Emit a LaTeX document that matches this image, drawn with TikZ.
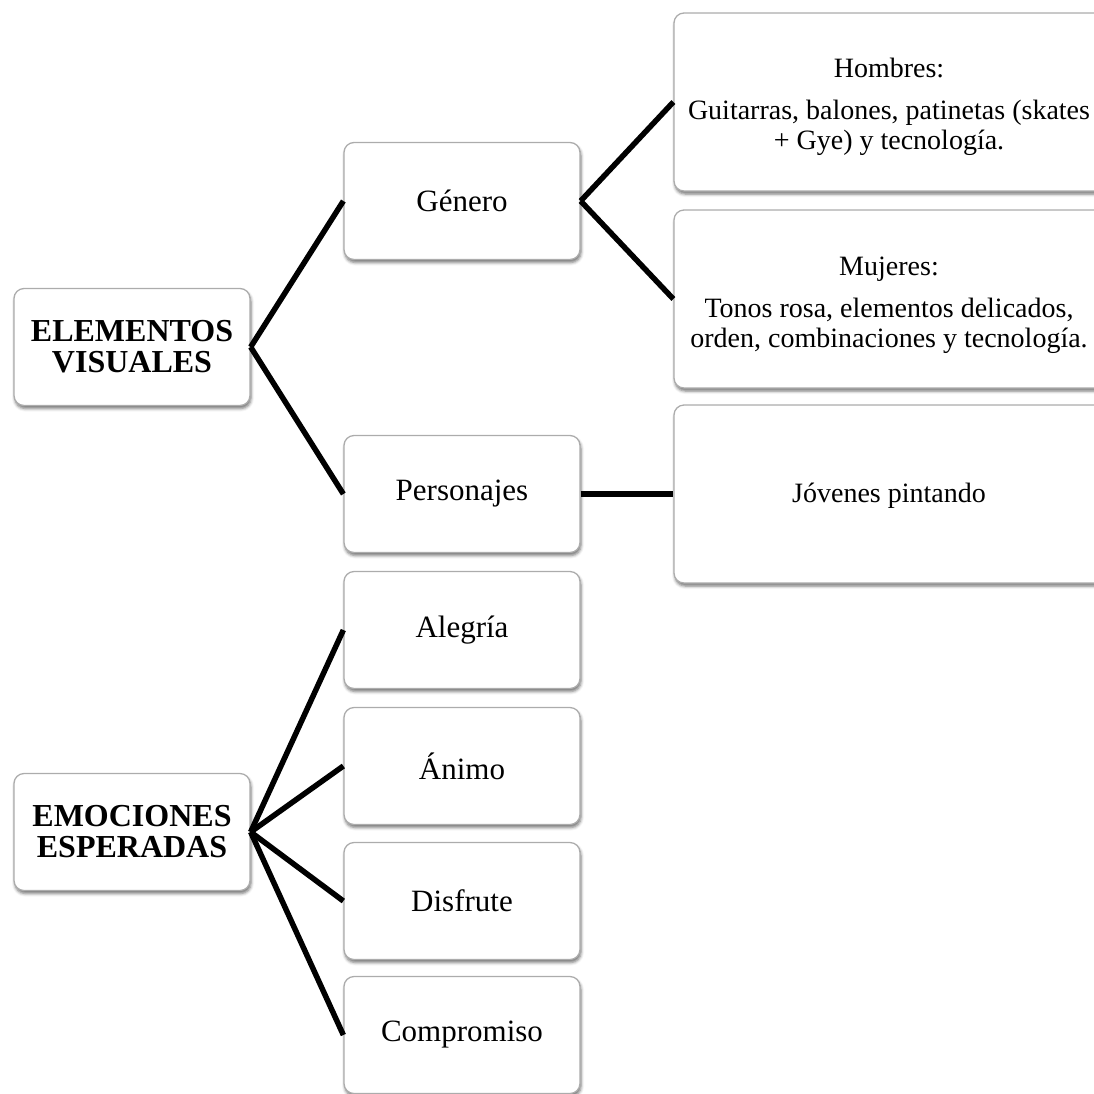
\documentclass[tikz,border=0pt]{standalone}
\usepackage{fontspec}
\setmainfont{Liberation Serif}
\usetikzlibrary{shadows.blur}
\begin{document}
\begin{tikzpicture}[x=1pt,y=-1pt,
  box/.style={draw=gray!65, line width=1.3pt, rounded corners=10pt, fill=white,
    blur shadow={shadow xshift=1pt, shadow yshift=-3pt, shadow blur radius=3pt, shadow opacity=55},
    align=center, inner sep=0pt},
  lbox/.style={box, minimum width=236pt, minimum height=117pt, font=\fontsize{32}{31}\selectfont\bfseries},
  mbox/.style={box, minimum width=236pt, minimum height=117pt, font=\fontsize{31}{34}\selectfont},
  rbox/.style={box, minimum width=430pt, minimum height=178pt, font=\fontsize{28}{30}\selectfont},
  rtext/.style={align=center, inner sep=0pt, font=\fontsize{28}{30}\selectfont},
  link/.style={line width=5.5pt, black}]
\useasboundingbox (0,0) rectangle (1094,1093);
\clip (0,0) rectangle (1094,1093);
\node[lbox] (ev) at (132,347) {ELEMENTOS\\VISUALES};
\node[lbox] (ee) at (132,832) {EMOCIONES\\ESPERADAS};
\node[mbox] (gen) at (462,201) {Género};
\node[mbox] (per) at (462,494) {Personajes};
\node[mbox] (ale) at (462,630) {Alegría};
\node[mbox] (ani) at (462,766) {Ánimo};
\node[mbox] (dis) at (462,901) {Disfrute};
\node[mbox] (com) at (462,1035) {Compromiso};
\node[rbox] (hom) at (889,102) {};
\node[rtext] (homt) at ([yshift=-5pt]hom.center) {Hombres:\\[12pt]Guitarras, balones, patinetas (skates\\+ Gye) y tecnología.};
\node[rbox] (muj) at (889,299) {};
\node[rtext] (mujt) at ([yshift=-6pt]muj.center) {Mujeres:\\[12pt]Tonos rosa, elementos delicados,\\orden, combinaciones y tecnología.};
\node[rbox] (jov) at (889,494) {};
\node[rtext] (jovt) at ([yshift=-2pt]jov.center) {Jóvenes pintando};
\draw[link] (ev.east) -- (gen.west);
\draw[link] (ev.east) -- (per.west);
\draw[link] (gen.east) -- (hom.west);
\draw[link] (gen.east) -- (muj.west);
\draw[link] (per.east) -- (jov.west);
\draw[link] (ee.east) -- (ale.west);
\draw[link] (ee.east) -- (ani.west);
\draw[link] (ee.east) -- (dis.west);
\draw[link] (ee.east) -- (com.west);
\end{tikzpicture}
\end{document}
